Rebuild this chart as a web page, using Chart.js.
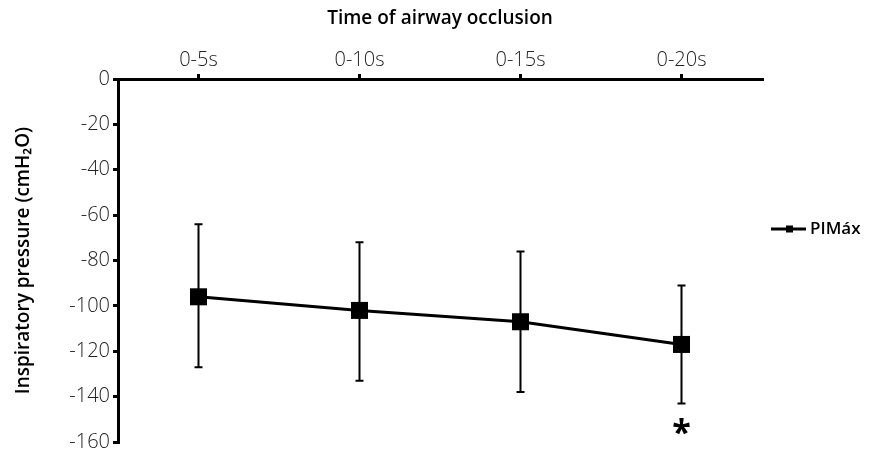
<!DOCTYPE html>
<html>
<head>
<meta charset="utf-8">
<script src="https://cdn.jsdelivr.net/npm/chart.js@4.4.0/dist/chart.umd.min.js"></script>
<style>
  html, body { margin: 0; padding: 0; background: #fff; }
  #wrap { width: 870px; height: 449px; position: relative; }
</style>
</head>
<body>
<div id="wrap"><canvas id="chart"></canvas></div>
<script>
// Datos
const categories = ['0-5s', '0-10s', '0-15s', '0-20s'];
const pimax = [-96, -102, -107, -117];
const errTop = [-64, -72, -76, -91];
const errBottom = [-127, -133, -138, -143];
const marks = ['', '', '', '*'];
const yTicks = [0, -20, -40, -60, -80, -100, -120, -140, -160];

const FONT = '"Open Sans", Lato, sans-serif';

// Plugin para barras de error, asterisco y leyenda
const extras = {
  id: 'extras',
  afterDatasetsDraw(chart) {
    const ctx = chart.ctx;
    const x = chart.scales.x;
    const y = chart.scales.y;
    ctx.save();
    ctx.strokeStyle = '#000';
    ctx.lineWidth = 2;
    categories.forEach((c, i) => {
      const px = x.getPixelForValue(i);
      const t = y.getPixelForValue(errTop[i]);
      const b = y.getPixelForValue(errBottom[i]);
      ctx.beginPath();
      ctx.moveTo(px, t); ctx.lineTo(px, b);
      ctx.moveTo(px - 4, t); ctx.lineTo(px + 4, t);
      ctx.moveTo(px - 4, b); ctx.lineTo(px + 4, b);
      ctx.stroke();
      if (marks[i]) {
        ctx.fillStyle = '#000';
        ctx.font = 'bold 34px ' + FONT;
        ctx.textAlign = 'center';
        ctx.textBaseline = 'middle';
        ctx.fillText(marks[i], px, b + 31);
      }
    });
    // redibujar puntos encima de las barras
    const meta = chart.getDatasetMeta(0);
    meta.data.forEach(p => {
      ctx.fillStyle = '#000';
      ctx.fillRect(p.x - 8.5, p.y - 8.5, 17, 17);
    });
    // leyenda
    const ly = 229;
    ctx.lineWidth = 3;
    ctx.beginPath();
    ctx.moveTo(771, ly); ctx.lineTo(806, ly);
    ctx.stroke();
    ctx.fillRect(786, ly - 3.5, 7, 7);
    ctx.font = '600 17px ' + FONT;
    ctx.textAlign = 'left';
    ctx.textBaseline = 'middle';
    ctx.fillText('PIMáx', 810, ly);
    ctx.restore();
  }
};

new Chart(document.getElementById('chart'), {
  type: 'line',
  data: {
    labels: categories,
    datasets: [{
      label: 'PIMáx',
      data: pimax,
      borderColor: '#000',
      borderWidth: 3,
      pointStyle: 'rect',
      pointRadius: 0,
      tension: 0
    }]
  },
  options: {
    responsive: true,
    maintainAspectRatio: false,
    animation: false,
    layout: { padding: { left: 0, right: 108, top: 0, bottom: 7 } },
    plugins: { legend: { display: false }, tooltip: { enabled: false } },
    scales: {
      x: {
        position: 'top',
        offset: true,
        afterFit(scale) { scale.height = 79; scale.paddingLeft = 0; scale.paddingRight = 0; },
        grid: { display: true, drawOnChartArea: false, color: '#000', lineWidth: 3, tickLength: 5, offset: false },
        border: { display: true, color: '#000', width: 3 },
        ticks: { color: '#222', font: { family: FONT, size: 20, weight: '300' }, padding: 2 },
        title: { display: true, text: 'Time of airway occlusion', color: '#000', font: { family: FONT, size: 19, weight: '600' }, padding: { top: 7, bottom: 10 } }
      },
      y: {
        min: -160,
        max: 0,
        afterFit(scale) { scale.width = 118; scale.paddingTop = 0; scale.paddingBottom = 0; },
        afterBuildTicks(scale) { scale.ticks = yTicks.map(v => ({ value: v })); },
        grid: { display: true, drawOnChartArea: false, color: '#000', lineWidth: 3, tickLength: 5 },
        border: { display: true, color: '#000', width: 3 },
        ticks: { color: '#222', font: { family: FONT, size: 20, weight: '300' }, padding: 3 },
        title: { display: true, text: 'Inspiratory pressure (cmH₂O)', color: '#000', font: { family: FONT, size: 19, weight: '600' }, padding: { top: 12, bottom: 0 } }
      }
    }
  },
  plugins: [extras]
});
</script>
</body>
</html>
